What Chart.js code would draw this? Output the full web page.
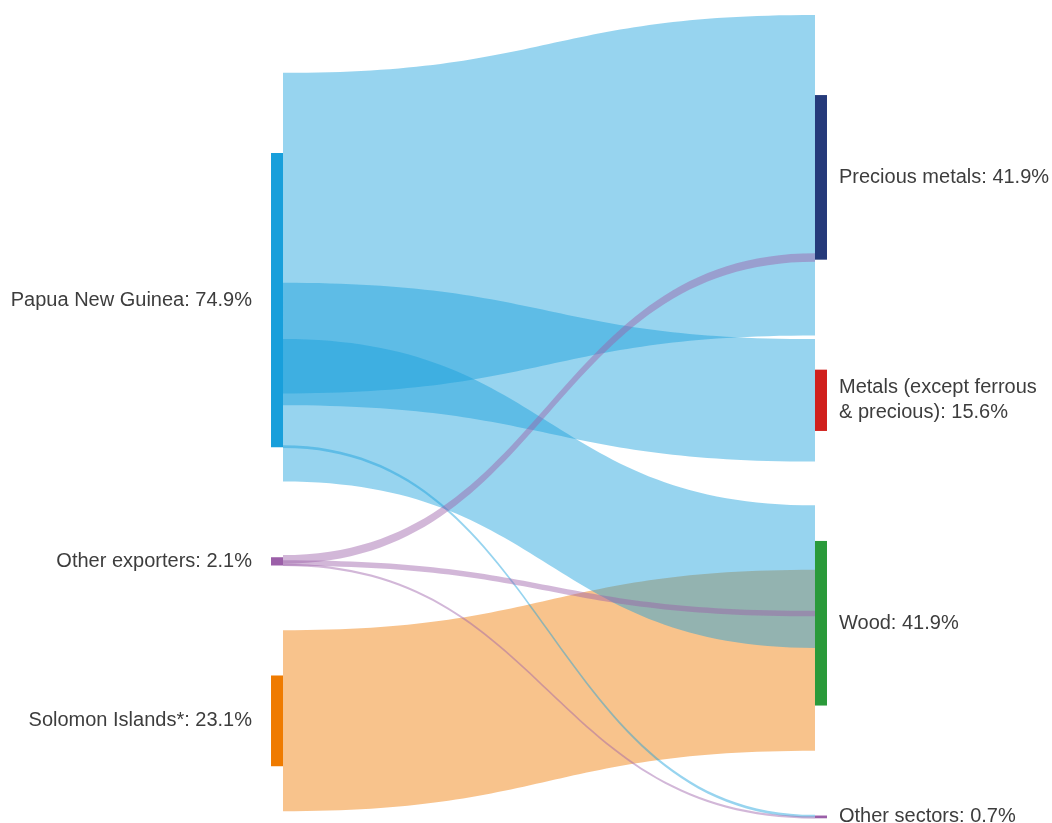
<!DOCTYPE html>
<html><head><meta charset="utf-8">
<script src="https://cdn.jsdelivr.net/npm/chart.js@4/dist/chart.umd.min.js"></script>
<style>html,body{margin:0;padding:0;background:#fff;overflow:hidden}#wrap{width:1052px;height:823px;position:relative}</style>
</head><body><div id="wrap"><canvas id="c"></canvas></div>
<script>
// ---- data ----
const sourceNodes = ['Papua New Guinea', 'Other exporters', 'Solomon Islands*'];
const sourceShares = [74.9, 2.1, 23.1];
const targetNodes = ['Precious metals', 'Metals (except ferrous & precious)', 'Wood', 'Other sectors'];
const targetShares = [41.9, 15.6, 41.9, 0.7];
// links (listed in drawing order)
const linkFrom   = [2, 0, 0, 0, 0, 1, 1, 1];
const linkTo     = [2, 0, 1, 2, 3, 0, 2, 3];
const linkValues = [23.05, 40.8, 15.6, 18.15, 0.35, 1.1, 0.7, 0.3];

// ---- styles ----
const sourceColors = ['#189fdb', '#9b5fa8', '#ef7b00'];
const targetColors = ['#253a7a', '#d0201c', '#2a9a3a', '#9b5fa8'];
const linkAlpha = 0.45;
const nodeGap = 28;            // in value units
const columnCenters = [117.0, 116.25]; // in value units
const nodeWidth = 12;
const linkSpread = 2;          // link band thickness relative to node share
const font = '20px "Liberation Sans", Arial, sans-serif';
const textColor = '#3d3d3d';

function hexToRgba(h, a) {
  const n = parseInt(h.slice(1), 16);
  return `rgba(${(n>>16)&255},${(n>>8)&255},${n&255},${a})`;
}

function layoutColumn(shares, center) {
  const total = shares.reduce((a, b) => a + b, 0) + nodeGap * (shares.length - 1);
  let y = center - total / 2;
  return shares.map(s => { const r = {start: y, end: y + s}; y += s + nodeGap; return r; });
}

const sankeyPlugin = {
  id: 'sankey',
  beforeDatasetsDraw(chart) {
    const ctx = chart.ctx, xs = chart.scales.x, ys = chart.scales.y;
    const left = layoutColumn(sourceShares, columnCenters[0]);
    const right = layoutColumn(targetShares, columnCenters[1]);
    const srcOff = sourceShares.map(() => 0), tgtOff = targetShares.map(() => 0);
    const srcPos = [], tgtPos = [];
    const bySrc = linkValues.map((v, i) => i).sort((a, b) => linkFrom[a] - linkFrom[b] || linkTo[a] - linkTo[b]);
    bySrc.forEach(i => { const s = linkFrom[i]; srcPos[i] = left[s].start + srcOff[s] + linkValues[i] / 2; srcOff[s] += linkValues[i]; });
    const byTgt = linkValues.map((v, i) => i).sort((a, b) => linkTo[a] - linkTo[b] || linkFrom[a] - linkFrom[b]);
    byTgt.forEach(i => { const t = linkTo[i]; tgtPos[i] = right[t].start + tgtOff[t] + linkValues[i] / 2; tgtOff[t] += linkValues[i]; });

    const x0 = xs.getPixelForValue(0) + nodeWidth;
    const x1 = xs.getPixelForValue(1);
    const xm = (x0 + x1) / 2;
    ctx.save();
    linkValues.forEach((v, i) => {
      const y0 = ys.getPixelForValue(srcPos[i]);
      const y1 = ys.getPixelForValue(tgtPos[i]);
      const w = Math.abs(ys.getPixelForValue(v) - ys.getPixelForValue(0)) * linkSpread;
      ctx.fillStyle = hexToRgba(sourceColors[linkFrom[i]], linkAlpha);
      ctx.beginPath();
      ctx.moveTo(x0, y0 - w / 2);
      ctx.bezierCurveTo(xm, y0 - w / 2, xm, y1 - w / 2, x1, y1 - w / 2);
      ctx.lineTo(x1, y1 + w / 2);
      ctx.bezierCurveTo(xm, y1 + w / 2, xm, y0 + w / 2, x0, y0 + w / 2);
      ctx.closePath();
      ctx.fill();
    });
    const drawNode = (col, r, color) => {
      const px = xs.getPixelForValue(col);
      const ya = ys.getPixelForValue(r.start), yb = ys.getPixelForValue(r.end);
      ctx.fillStyle = color;
      ctx.fillRect(px, Math.min(ya, yb), nodeWidth, Math.max(Math.abs(yb - ya), 2.5));
    };
    left.forEach((r, i) => drawNode(0, r, sourceColors[i]));
    right.forEach((r, i) => drawNode(1, r, targetColors[i]));
    ctx.font = font;
    ctx.fillStyle = textColor;
    ctx.textBaseline = 'middle';
    ctx.textAlign = 'right';
    left.forEach((r, i) => {
      const yc = ys.getPixelForValue((r.start + r.end) / 2);
      ctx.fillText(sourceNodes[i] + ': ' + sourceShares[i].toFixed(1) + '%', xs.getPixelForValue(0) - 19, yc);
    });
    ctx.textAlign = 'left';
    const maxW = 212, lineH = 25;
    right.forEach((r, i) => {
      const yc = ys.getPixelForValue((r.start + r.end) / 2);
      const text = targetNodes[i] + ': ' + targetShares[i].toFixed(1) + '%';
      const words = text.split(' ');
      const lines = [];
      let cur = '';
      words.forEach(wd => {
        const t = cur ? cur + ' ' + wd : wd;
        if (ctx.measureText(t).width > maxW && cur) { lines.push(cur); cur = wd; } else cur = t;
      });
      lines.push(cur);
      const lx = xs.getPixelForValue(1) + nodeWidth + 12;
      lines.forEach((ln, k) => ctx.fillText(ln, lx, yc + (k - (lines.length - 1) / 2) * lineH));
    });
    ctx.restore();
  }
};

new Chart(document.getElementById('c'), {
  type: 'scatter',
  data: { datasets: [{ data: [] }] },
  options: {
    responsive: true,
    maintainAspectRatio: false,
    animation: false,
    events: [],
    layout: { padding: 0 },
    plugins: { legend: { display: false }, tooltip: { enabled: false } },
    scales: {
      x: { type: 'linear', display: false, min: -0.4982, max: 1.4357 },
      y: { type: 'linear', display: false, reverse: true, min: 0, max: 209.5 }
    }
  },
  plugins: [sankeyPlugin]
});
</script></body></html>
